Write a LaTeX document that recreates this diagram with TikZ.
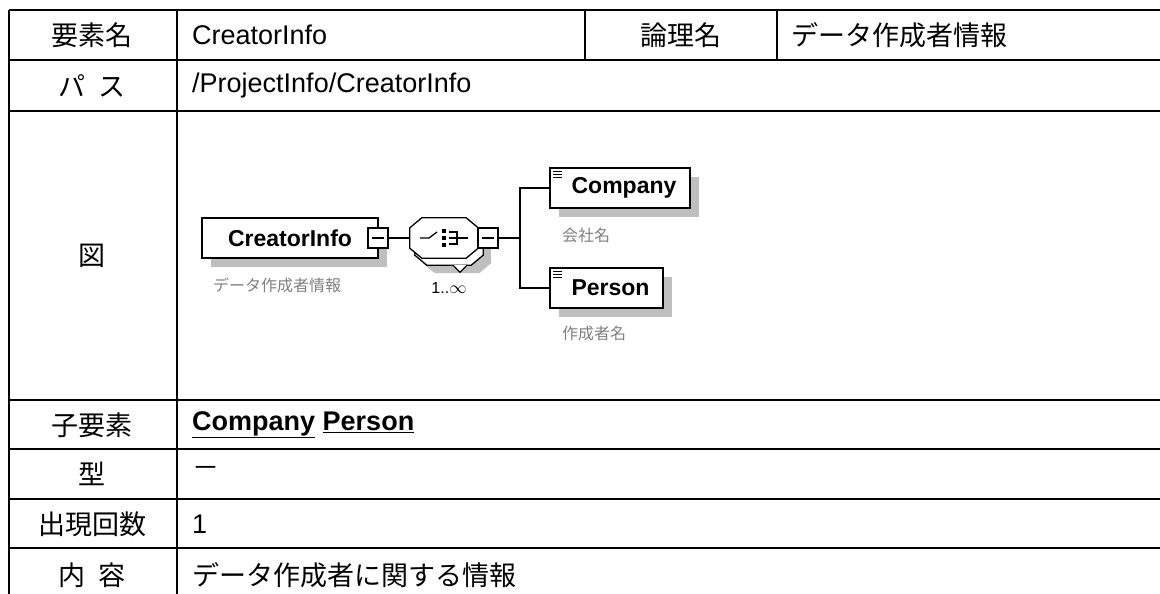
\documentclass[tikz,border=0pt]{standalone}
\usepackage{fontspec}
\setmainfont{Liberation Sans}
\newfontfamily\jp{Noto Sans CJK JP}
\usetikzlibrary{shadows}

\tikzset{
  grid/.style={line width=2.8pt},
  wire/.style={line width=1.3pt},
  lcell/.style={font=\jp\fontsize{27}{30}\selectfont, inner sep=0pt},
  vcell/.style={font=\fontsize{27}{30}\selectfont, inner sep=0pt, anchor=west},
  elem/.style={draw, line width=1.3pt, fill=white, inner sep=0pt, minimum height=40pt,
    font=\fontsize{23}{26}\selectfont\bfseries,
    drop shadow={shadow xshift=9pt, shadow yshift=-9pt, fill=black!25, opacity=1}},
  minusbox/.style={draw, line width=1.3pt, fill=white, minimum size=20pt, inner sep=0pt,
    path picture={\draw[line width=1.3pt] ([xshift=4pt]path picture bounding box.west)
      -- ([xshift=-4pt]path picture bounding box.east);}},
  seqbox/.style={minimum width=68pt, minimum height=40pt, inner sep=0pt},
  note/.style={font=\jp\fontsize{16}{18}\selectfont, text=black!50, inner sep=0pt, anchor=west},
}
% octagon round a named box
\newcommand\octpath[1]{([xshift=12pt]#1.north west) -- ([xshift=-12pt]#1.north east)
  -- ([yshift=-10pt]#1.north east) -- ([yshift=10pt]#1.south east)
  -- ([xshift=-12pt]#1.south east) -- ([xshift=12pt]#1.south west)
  -- ([yshift=10pt]#1.south west) -- ([yshift=-10pt]#1.north west) -- cycle}

\begin{document}
\begin{tikzpicture}[x=1pt,y=-1pt]
\useasboundingbox (0,0) rectangle (1160,594);

% table rules
\draw[grid] (9,10) -- (1160,10);
\draw[grid] (9,60) -- (1160,60);
\draw[grid] (9,111) -- (1160,111);
\draw[grid] (9,400) -- (1160,400);
\draw[grid] (9,449) -- (1160,449);
\draw[grid] (9,499) -- (1160,499);
\draw[grid] (9,548) -- (1160,548);
\draw[grid] (9,10) -- (9,594);
\draw[grid] (177,10) -- (177,594);
\draw[grid] (585,10) -- (585,60);
\draw[grid] (777,10) -- (777,60);

% table texts
\node[lcell] (hname) at (92,35) {要素名};
\node[vcell] (vname) at (192,35) {CreatorInfo};
\node[lcell] (hlogic) at (681,35) {論理名};
\node[lcell, anchor=west] (vlogic) at (791,35) {データ作成者情報};
\node[lcell] (hpath) at (92,86) {パ\hspace{.45em}ス};
\node[vcell] (vpath) at (192,86) {/ProjectInfo/CreatorInfo};
\node[lcell] (hfig) at (92,256) {図};
\node[lcell] (hchild) at (92,425) {子要素};
\node[vcell, font=\fontsize{27}{30}\selectfont\bfseries] (vchild) at (192,425) {\underline{Company} \underline{Person}};
\node[lcell] (htype) at (92,474) {型};
\node[lcell, anchor=west] (vtype) at (192,472) {－};
\node[lcell] (hcount) at (92,524) {出現回数};
\node[vcell] (vcount) at (192,524) {1};
\node[lcell] (hcontent) at (92,575) {内\hspace{.45em}容};
\node[lcell, anchor=west] (vcontent) at (192,575) {データ作成者に関する情報};

% schema diagram
\node[elem, minimum width=176pt] (creator) at (290,238) {CreatorInfo};
\node[minusbox] (cminus) at (378,238) {};

\node[seqbox] (seqshadow) at (457,253) {};
\node[seqbox] (seqback) at (449,245) {};
\node[seqbox] (seq) at (444,238) {};
\fill[black!25] \octpath{seqshadow};
\draw[wire, fill=white] \octpath{seqback};
\draw[wire, fill=white] ([xshift=4pt]seqback.south) -- ++(7,7) -- ++(7,-7);
\draw[wire, fill=white] \octpath{seq};
\begin{scope}[shift={(seq.center)}, wire]
  \draw (-24,0) -- (-15,0) -- (-7,-6);
  \foreach \y in {-7,0,7} \fill (-2,\y-2) rectangle (2,\y+2);
  \draw (5,-6) -- (13,-6) -- (13,6) -- (5,6);
  \draw (5,0) -- (24,0);
\end{scope}
\node[minusbox] (sminus) at (488,238) {};
\coordinate (branch) at (520,238);

\node[elem, minimum width=140pt] (company) at (620,188) {\hspace{8pt}Company};
\node[elem, minimum width=113pt] (person) at (606.5,288) {\hspace{8pt}Person};
\foreach \n in {company,person}
  \foreach \d in {4,7,10}
    \draw[line width=1pt] ([shift={(4pt,-\d pt)}]\n.north west) -- ++(9,0);

\draw[wire] (cminus.east) -- (seq.west);
\draw[wire] (sminus.east) -- (branch);
\draw[wire] (branch) |- (company.west);
\draw[wire] (branch) |- (person.west);

\node[note] (creatornote) at (213,285) {データ作成者情報};
\node[font=\fontsize{16}{18}\selectfont, inner sep=0pt] (occurs) at (449,288) {1..$\infty$};
\node[note] (companynote) at (562,235) {会社名};
\node[note] (personnote) at (562,333) {作成者名};
\end{tikzpicture}
\end{document}
